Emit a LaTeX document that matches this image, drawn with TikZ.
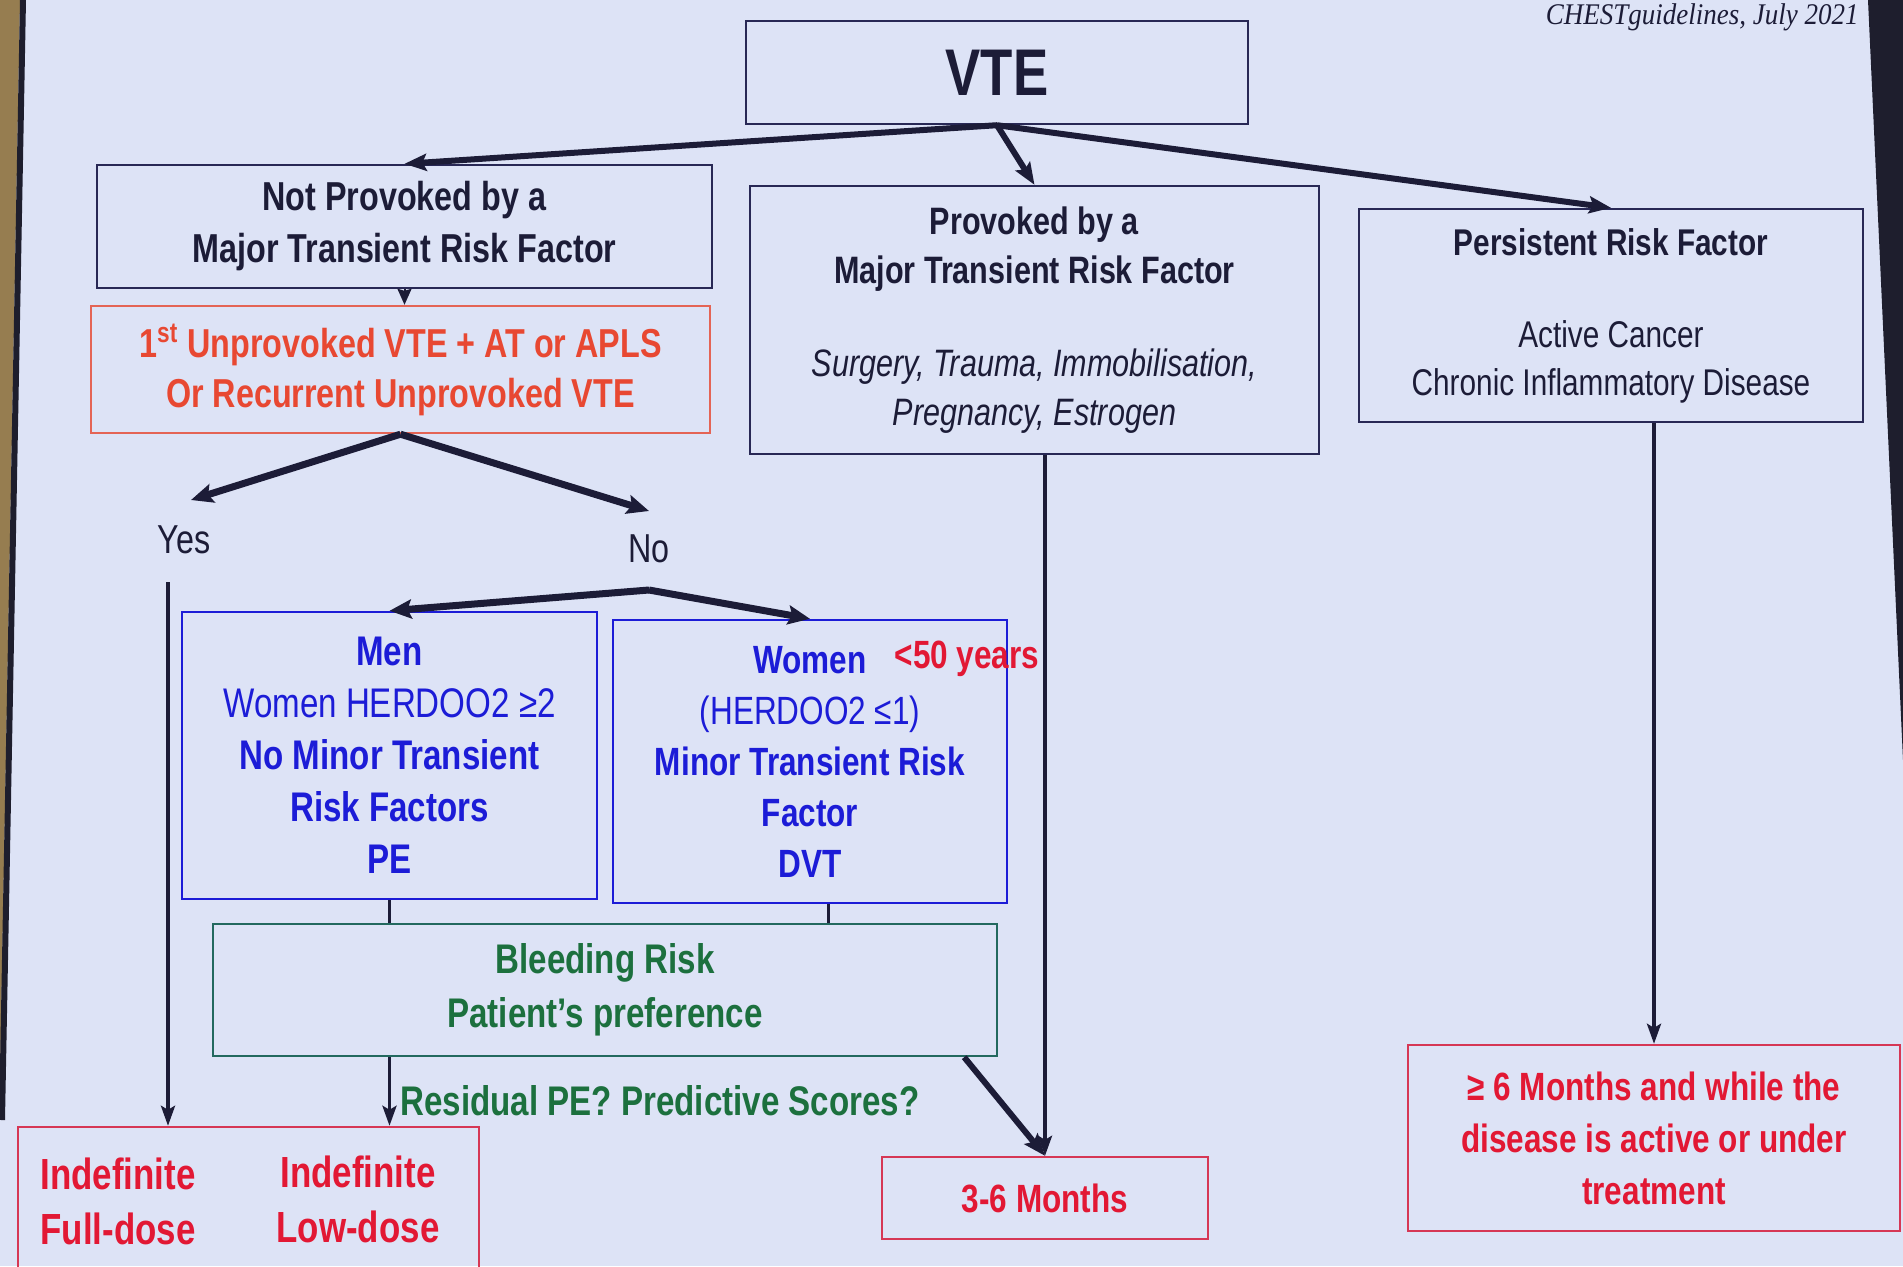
\documentclass[tikz,border=0pt]{standalone}
\usepackage{fontspec}
\setmainfont{Liberation Sans}[FakeStretch=0.8]
\newfontfamily\citefont{Liberation Serif}[FakeStretch=0.9]
\usetikzlibrary{arrows.meta}
\definecolor{bgc}{RGB}{221,227,246}
\definecolor{tanc}{RGB}{150,125,80}
\definecolor{edgec}{RGB}{30,30,45}
\definecolor{ink}{RGB}{28,28,55}
\definecolor{navy}{RGB}{40,40,85}
\definecolor{orangered}{RGB}{232,72,50}
\definecolor{orangeline}{RGB}{228,100,85}
\definecolor{redtxt}{RGB}{226,24,52}
\definecolor{redline}{RGB}{214,55,85}
\definecolor{bluec}{RGB}{28,28,215}
\definecolor{greentxt}{RGB}{28,112,62}
\definecolor{greenline}{RGB}{35,105,95}
\tikzset{
  box/.style={draw, line width=1.2pt, inner sep=0pt, align=center},
  navybox/.style={box, draw=navy, text=ink},
  orangebox/.style={box, draw=orangeline, text=orangered},
  redbox/.style={box, draw=redline, text=redtxt},
  bluebox/.style={box, draw=bluec, text=bluec},
  greenbox/.style={box, draw=greenline, text=greentxt},
  bigarrow/.style={draw=ink, line width=3pt, -{Stealth[length=11pt,width=8.5pt,inset=2pt]}},
  fatarrow/.style={draw=ink, line width=3.5pt, -{Stealth[length=11pt,width=9.5pt,inset=2pt]}},
  thinarrow/.style={draw=ink, line width=1.8pt, -{Stealth[length=10pt,width=7pt,inset=2pt]}},
  smallarrow/.style={draw=ink, line width=1pt, -{Stealth[length=8pt,width=7pt,inset=1pt]}},
  vline/.style={draw=ink, line width=1.5pt},
  lbl/.style={inner sep=0pt, align=center}
}
\begin{document}
\begin{tikzpicture}[x=0.5pt,y=-0.5pt]
\useasboundingbox (0,0) rectangle (1903,1266);
\clip (0,0) rectangle (1903,1266);
\fill[bgc] (0,0) rectangle (1903,1266);
% photo edges
\fill[tanc] (0,0) -- (20,0) -- (0,1080) -- cycle;
\draw[edgec, line width=3pt] (23,0) -- (2,1120);
\fill[edgec] (1868,0) -- (1903,0) -- (1903,760) -- cycle;

% citation
\node[lbl, anchor=base east, text=ink, font=\citefont\itshape\fontsize{15}{15}\selectfont] (cite) at (1859,24) {CHESTguidelines, July 2021};

% boxes
\node[navybox, minimum width=251pt, minimum height=51.5pt, font=\fontsize{33}{33}\selectfont\bfseries] (vte) at (997,72.5) {VTE};

\node[navybox, minimum width=307.5pt, minimum height=61.5pt, font=\fontsize{20.2}{26}\selectfont] (notprov) at (404.5,226.5)
  {\textbf{Not Provoked by a}\\\textbf{Major Transient Risk Factor}};

\node[orangebox, minimum width=309.5pt, minimum height=63.5pt, font=\fontsize{20.2}{25}\selectfont] (unprov) at (400.5,369.5)
  {\textbf{1\textsuperscript{st} Unprovoked VTE + AT or APLS}\\\textbf{Or Recurrent Unprovoked VTE}};

\node[navybox, minimum width=284.5pt, minimum height=134pt, font=\fontsize{19.1}{24.5}\selectfont] (prov) at (1034.5,320)
  {\textbf{Provoked by a}\\\textbf{Major Transient Risk Factor}\\[22pt]\textit{Surgery, Trauma, Immobilisation,}\\\textit{Pregnancy, Estrogen}};

\node[navybox, minimum width=252pt, minimum height=106.5pt, font=\fontsize{18.6}{24}\selectfont] (pers) at (1611,315.5)
  {\textbf{Persistent Risk Factor}\\[22pt]Active Cancer\\Chronic Inflammatory Disease};

\node[lbl, text=ink, font=\fontsize{20.2}{20.2}\selectfont] (yes) at (184,540) {Yes};
\node[lbl, text=ink, font=\fontsize{20.2}{20.2}\selectfont] (no) at (649,549) {No};

\node[bluebox, minimum width=207.5pt, minimum height=143.5pt, font=\fontsize{20.7}{26}\selectfont] (men) at (389.5,755.5)
  {\textbf{Men}\\Women HERDOO2 ≥2\\\textbf{No Minor Transient}\\\textbf{Risk Factors}\\\textbf{PE}};

\node[bluebox, minimum width=197pt, minimum height=141.5pt, font=\fontsize{19.7}{25.5}\selectfont] (women) at (810,761.5)
  {\textbf{Women}\\(HERDOO2 ≤1)\\\textbf{Minor Transient Risk}\\\textbf{Factor}\\\textbf{DVT}};
\node[lbl, text=redtxt, font=\fontsize{19.7}{19.7}\selectfont\bfseries] (yrs) at (967,659) {<50 years};

\node[greenbox, minimum width=392pt, minimum height=66pt, font=\fontsize{20.7}{27}\selectfont] (bleed) at (605,990)
  {\textbf{Bleeding Risk}\\\textbf{Patient's preference}};
\node[lbl, anchor=west, text=greentxt, font=\fontsize{20.7}{20.7}\selectfont\bfseries] (resid) at (400,1101) {Residual PE? Predictive Scores?};

\node[redbox, minimum width=230.5pt, minimum height=86.5pt] (indef) at (248.5,1213.5) {};
\node[lbl, text=redtxt, font=\fontsize{21.8}{27.5}\selectfont] (indf) at (118,1201) {\textbf{Indefinite}\\\textbf{Full-dose}};
\node[lbl, text=redtxt, font=\fontsize{21.8}{27.5}\selectfont] (indl) at (358,1199) {\textbf{Indefinite}\\\textbf{Low-dose}};

\node[redbox, minimum width=163pt, minimum height=41pt, font=\fontsize{19.7}{19.7}\selectfont\bfseries] (three) at (1045,1198) {3-6 Months};

\node[redbox, minimum width=246pt, minimum height=93pt, font=\fontsize{19.7}{26}\selectfont] (six) at (1654,1138)
  {\textbf{≥ 6 Months and while the}\\\textbf{disease is active or under}\\\textbf{treatment}};

% helper coordinates
\coordinate (yesT) at (191,500);
\coordinate (noT) at (649,511);
\coordinate (yesB) at (168,582);
\coordinate (noB) at (649,590);

% connectors
\draw[bigarrow] (vte.south) -- (notprov.north);
\draw[bigarrow] (vte.south) -- (prov.north);
\draw[bigarrow] (vte.south) -- (pers.north);
\draw[smallarrow] (notprov.south) -- (notprov.south |- unprov.north);
\draw[fatarrow] (unprov.south) -- (yesT);
\draw[fatarrow] (unprov.south) -- (noT);
\draw[thinarrow] (yesB) -- (yesB |- indef.north);
\draw[fatarrow] (noB) -- (men.north);
\draw[fatarrow] (noB) -- (women.north);
\draw[vline] (men.south) -- (men.south |- bleed.north);
\draw[vline] ([xshift=9pt]women.south) -- ([xshift=9pt]women.south |- bleed.north);
\draw[thinarrow] (men.south |- bleed.south) -- (men.south |- indef.north);
\draw[bigarrow] ([xshift=-17pt]bleed.south east) -- (three.north);
\draw[thinarrow] (three.north |- prov.south) -- (three.north);
\draw[thinarrow] (six.north |- pers.south) -- (six.north);
\end{tikzpicture}
\end{document}
